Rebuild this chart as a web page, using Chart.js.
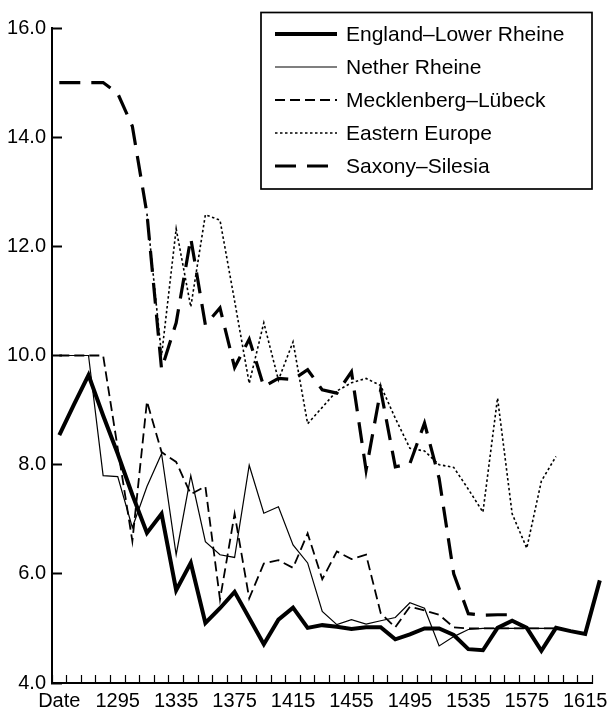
<!DOCTYPE html>
<html>
<head>
<meta charset="utf-8">
<title>Decline by region</title>
<script src="https://cdn.jsdelivr.net/npm/chart.js@4.4.1/dist/chart.umd.min.js"></script>
<style>
  body { margin: 0; background: #fff; }
  #wrap { width: 610px; height: 717px; }
</style>
</head>
<body>
<div id="wrap"><canvas id="myChart" width="610" height="717"></canvas></div>
<script>
// decades, one value per decade (first one is labelled "Date")
const years = [1255, 1265, 1275, 1285, 1295, 1305, 1315, 1325, 1335, 1345,
  1355, 1365, 1375, 1385, 1395, 1405, 1415, 1425, 1435, 1445,
  1455, 1465, 1475, 1485, 1495, 1505, 1515, 1525, 1535, 1545,
  1555, 1565, 1575, 1585, 1595, 1605, 1615, 1625];
const labelYears = [1295, 1335, 1375, 1415, 1455, 1495, 1535, 1575, 1615];
const firstLabel = 'Date';
const yTicks = [4, 6, 8, 10, 12, 14, 16];

const england = [8.54, 9.1, 9.64, 8.9, 8.2, 7.45, 6.75, 7.1, 5.7, 6.2,
  5.1, 5.37, 5.67, 5.19, 4.71, 5.16, 5.38, 5.01, 5.06, 5.03,
  4.99, 5.02, 5.02, 4.8, 4.89, 5.0, 5.0, 4.88, 4.62, 4.6,
  5.01, 5.14, 5.01, 4.59, 5.01, 4.95, 4.9, 5.88];
const netherRheine = [10.0, 10.0, 10.0, 7.8, 7.78, 6.85, 7.6, 8.2, 6.35, 7.8,
  6.59, 6.35, 6.3, 7.99, 7.11, 7.23, 6.53, 6.2, 5.31, 5.07,
  5.16, 5.08, 5.14, 5.2, 5.47, 5.37, 4.68, 4.85, 4.98, 5.0,
  5.0, 5.0, 5.0, 5.0, 5.0, null, null, null];
const mecklenberg = [10.0, 10.0, 10.0, 10.0, 8.3, 6.6, 9.16, 8.23, 8.05, 7.46,
  7.6, 5.53, 7.1, 5.55, 6.19, 6.25, 6.11, 6.74, 5.9, 6.41,
  6.27, 6.35, 5.28, 5.02, 5.4, 5.33, 5.25, 5.02, 5.0, 5.0,
  5.0, 5.0, 5.0, 5.0, 5.0, null, null, null];
const easternEurope = [null, null, null, null, null, null, 12.6, 10.0, 12.32, 10.89,
  12.58, 12.48, 11.0, 9.49, 10.6, 9.55, 10.25, 8.75, 9.05, 9.35,
  9.5, 9.58, 9.45, 8.85, 8.3, 8.25, 8.0, 7.95, 7.55, 7.13,
  9.22, 7.1, 6.47, 7.7, 8.15, null, null, null];
const saxony = [15.0, 15.0, 15.0, 15.0, 14.8, 14.2, 12.6, 9.75, 10.6, 12.15,
  10.56, 10.87, 9.78, 10.3, 9.43, 9.58, 9.56, 9.74, 9.37, 9.31,
  9.7, 7.9, 9.37, 7.96, 8.02, 8.76, 7.75, 6.0, 5.27, 5.24,
  5.25, 5.25, null, null, null, null, null, null];

const FONT = "'Liberation Sans', Arial, Helvetica, sans-serif";

function pts(values) {
  return years.map((yr, i) => ({ x: yr, y: values[i] }));
}

function series(label, values, width, dash) {
  return {
    label: label,
    data: pts(values),
    borderColor: '#000',
    backgroundColor: '#000',
    borderWidth: width,
    borderDash: dash,
    borderJoinStyle: 'miter',
    borderCapStyle: 'butt',
    pointRadius: 0,
    tension: 0,
    fill: false,
    clip: false
  };
}

// legend drawn in a box inside the plot, top right
const boxLegend = {
  id: 'boxLegend',
  afterDraw(chart) {
    const ctx = chart.ctx;
    const rows = [34, 67, 100, 133, 166];
    ctx.save();
    ctx.strokeStyle = '#000';
    ctx.lineWidth = 1.7;
    ctx.setLineDash([]);
    ctx.strokeRect(261, 12.5, 331, 176.5);
    chart.data.datasets.forEach((ds, i) => {
      const y = rows[i];
      ctx.beginPath();
      ctx.setLineDash(ds.borderDash || []);
      ctx.lineWidth = ds.borderWidth;
      ctx.moveTo(275, y);
      ctx.lineTo(337, y);
      ctx.stroke();
      ctx.setLineDash([]);
      ctx.fillStyle = '#000';
      ctx.font = '21px ' + FONT;
      ctx.textBaseline = 'middle';
      ctx.textAlign = 'left';
      ctx.fillText(ds.label, 346, y + 1);
    });
    ctx.restore();
  }
};

const config = {
  type: 'line',
  data: {
    datasets: [
      series('England\u2013Lower Rheine', england, 4, []),
      series('Nether Rheine', netherRheine, 1.2, []),
      series('Mecklenberg\u2013L\u00fcbeck', mecklenberg, 1.8, [10, 5]),
      series('Eastern Europe', easternEurope, 1.6, [2.5, 2.5]),
      series('Saxony\u2013Silesia', saxony, 3.2, [21, 11])
    ]
  },
  options: {
    responsive: false,
    animation: false,
    devicePixelRatio: 1,
    layout: { padding: { top: 13, right: 17.5, left: 0, bottom: 0 } },
    plugins: {
      legend: { display: false },
      tooltip: { enabled: false }
    },
    scales: {
      x: {
        type: 'linear',
        min: 1250,
        max: 1620,
        afterFit: (s) => { s.height = 34; },
        border: { display: true, color: '#000', width: 2 },
        grid: {
          drawOnChartArea: false,
          drawTicks: true,
          tickLength: -8,
          tickWidth: 1.2,
          tickColor: (c) => (c.tick && c.tick.value % 10 === 0) ? '#000' : 'rgba(0,0,0,0)'
        },
        ticks: {
          stepSize: 5,
          autoSkip: false,
          maxRotation: 0,
          minRotation: 0,
          padding: 14,
          color: '#000',
          font: { family: FONT, size: 20 },
          callback: (v) => v === years[0] ? firstLabel : (labelYears.includes(v) ? String(v) : '')
        }
      },
      y: {
        min: yTicks[0],
        max: yTicks[yTicks.length - 1],
        afterFit: (s) => { s.width = 52; },
        afterBuildTicks: (s) => { s.ticks = yTicks.map(v => ({ value: v })); },
        border: { display: true, color: '#000', width: 2 },
        grid: {
          drawOnChartArea: false,
          tickLength: -10,
          tickWidth: 2,
          tickColor: '#000'
        },
        ticks: {
          padding: 16,
          color: '#000',
          font: { family: FONT, size: 20 },
          callback: (v) => Number(v).toFixed(1)
        }
      }
    }
  },
  plugins: [boxLegend]
};

const myChart = new Chart(document.getElementById('myChart'), config);
</script>
</body>
</html>
